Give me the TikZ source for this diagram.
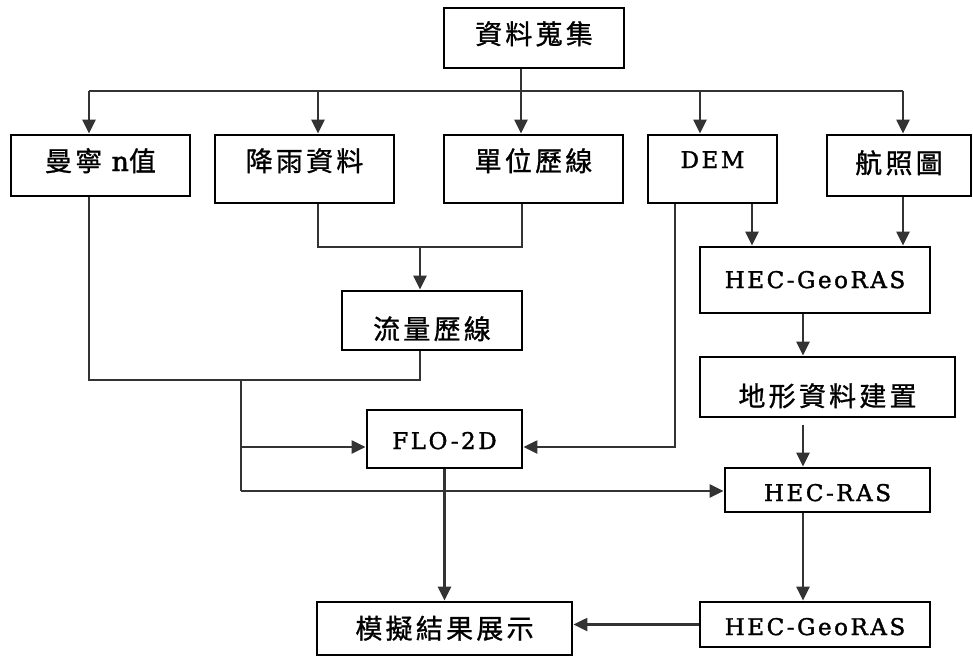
\documentclass[tikz,border=0pt]{standalone}
\usepackage{fontspec}
\setmainfont{DejaVu Serif}
\newfontfamily\cjk[LetterSpace=12,FakeBold=1]{Noto Sans CJK TC}
\newfontfamily\lat[LetterSpace=11,FakeBold=1.6]{DejaVu Serif}
\usetikzlibrary{arrows.meta}
\begin{document}
\begin{tikzpicture}[x=1pt,y=-1pt,
  bx/.style 2 args={draw=black, line width=2.8pt, inner sep=0pt, minimum width=#1, minimum height=#2},
  zh/.style={font=\cjk\fontsize{27}{27}\selectfont},
  en/.style={font=\lat\fontsize{23}{23}\selectfont},
  tv/.style={text height=#1, text depth=0pt},
  tvd/.style={text height=0pt, text depth=#1},
  conn/.style={draw=black!80, line width=2.3pt},
  arr/.style={conn, -{Triangle[width=13pt,length=14pt]}},
]
\useasboundingbox[fill=white] (0,0) rectangle (973,657);

% boxes
\node[bx={180pt}{60pt}, zh, tv=12pt] (src) at (534,38) {資料蒐集};
\node[bx={179pt}{61pt}, zh, tv=11pt] (manning) at (100.5,165.5) {曼寧 {\lat n}值};
\node[bx={179pt}{68pt}, zh, tv=4pt] (rain) at (304.5,169) {降雨資料};
\node[bx={179pt}{68pt}, zh, tv=4pt] (unit) at (533.5,169) {單位歷線};
\node[bx={129pt}{68pt}, en, tvd=2pt] (dem) at (712.5,169) {DEM};
\node[bx={144pt}{61pt}, zh, tv=15pt] (aerial) at (899,165.5) {航照圖};
\node[bx={230pt}{66pt}, en, tv=16pt] (geo1) at (815,280) {HEC-GeoRAS};
\node[bx={180pt}{59pt}, zh, tv=37pt] (flow) at (432,320.5) {流量歷線};
\node[bx={255pt}{60pt}, zh, tv=38pt] (terrain) at (827.5,387) {地形資料建置};
\node[bx={155pt}{58pt}, en, tv=20pt] (flo) at (444.5,439) {FLO-2D};
\node[bx={205pt}{44pt}, en, tv=22pt] (ras) at (827.5,490) {HEC-RAS};
\node[bx={255pt}{53pt}, zh, tv=20pt] (result) at (444.5,628.5) {模擬結果展示};
\node[bx={230pt}{45pt}, en, tv=21pt] (geo2) at (815,624.5) {HEC-GeoRAS};

% junction coordinates
\coordinate (j0) at (521,91);
\coordinate (b1) at (89,91);
\coordinate (b2) at (318,91);
\coordinate (b3) at (700,91);
\coordinate (b4) at (903,91);
\coordinate (m1) at (318,247);
\coordinate (m2) at (522,247);
\coordinate (m3) at (420,247);
\coordinate (n1) at (89,380);
\coordinate (n2) at (420,380);
\coordinate (s1) at (241,380);
\coordinate (s2) at (241,447);
\coordinate (s3) at (241,491);
\coordinate (d1) at (675,447);
\coordinate (d2) at (752,203);
\coordinate (v) at (803,0);

% distribution from the top box
\draw[conn] (src.south -| j0) -- (j0);
\draw[conn] (b1) -- (b4);
\draw[arr] (b1) -- (b1 |- manning.north);
\draw[arr] (b2) -- (b2 |- rain.north);
\draw[arr] (j0) -- (j0 |- unit.north);
\draw[arr] (b3) -- (b3 |- dem.north);
\draw[arr] (b4) -- (b4 |- aerial.north);

% rainfall + unit hydrograph -> flow hydrograph
\draw[conn] (m1 |- rain.south) -- (m1) -- (m2) -- (m2 |- unit.south);
\draw[arr] (m3) -- (m3 |- flow.north);

% manning + flow -> FLO-2D and HEC-RAS
\draw[conn] (n1 |- manning.south) -- (n1) -- (n2) -- (n2 |- flow.south);
\draw[conn] (s1) -- (s3);
\draw[arr] (s2) -- (s2 -| flo.west);
\draw[arr] (s3) -- (s3 -| ras.west);

% DEM -> FLO-2D, DEM -> HEC-GeoRAS
\draw[arr] (d1 |- dem.south) -- (d1) -- (d1 -| flo.east);
\draw[arr] (d2 |- dem.south) -- (d2 |- geo1.north);
\draw[arr] (b4 |- aerial.south) -- (b4 |- geo1.north);

% right column
\draw[arr] (v |- geo1.south) -- (v |- terrain.north);
\draw[arr, shorten <=7pt] (v |- terrain.south) -- (v |- ras.north);
\draw[arr] (v |- ras.south) -- (v |- geo2.north);

% to results
\draw[arr] (flo.south) -- (flo.south |- result.north);
\draw[arr] (geo2.west) -- (geo2.west -| result.east);
\end{tikzpicture}
\end{document}
